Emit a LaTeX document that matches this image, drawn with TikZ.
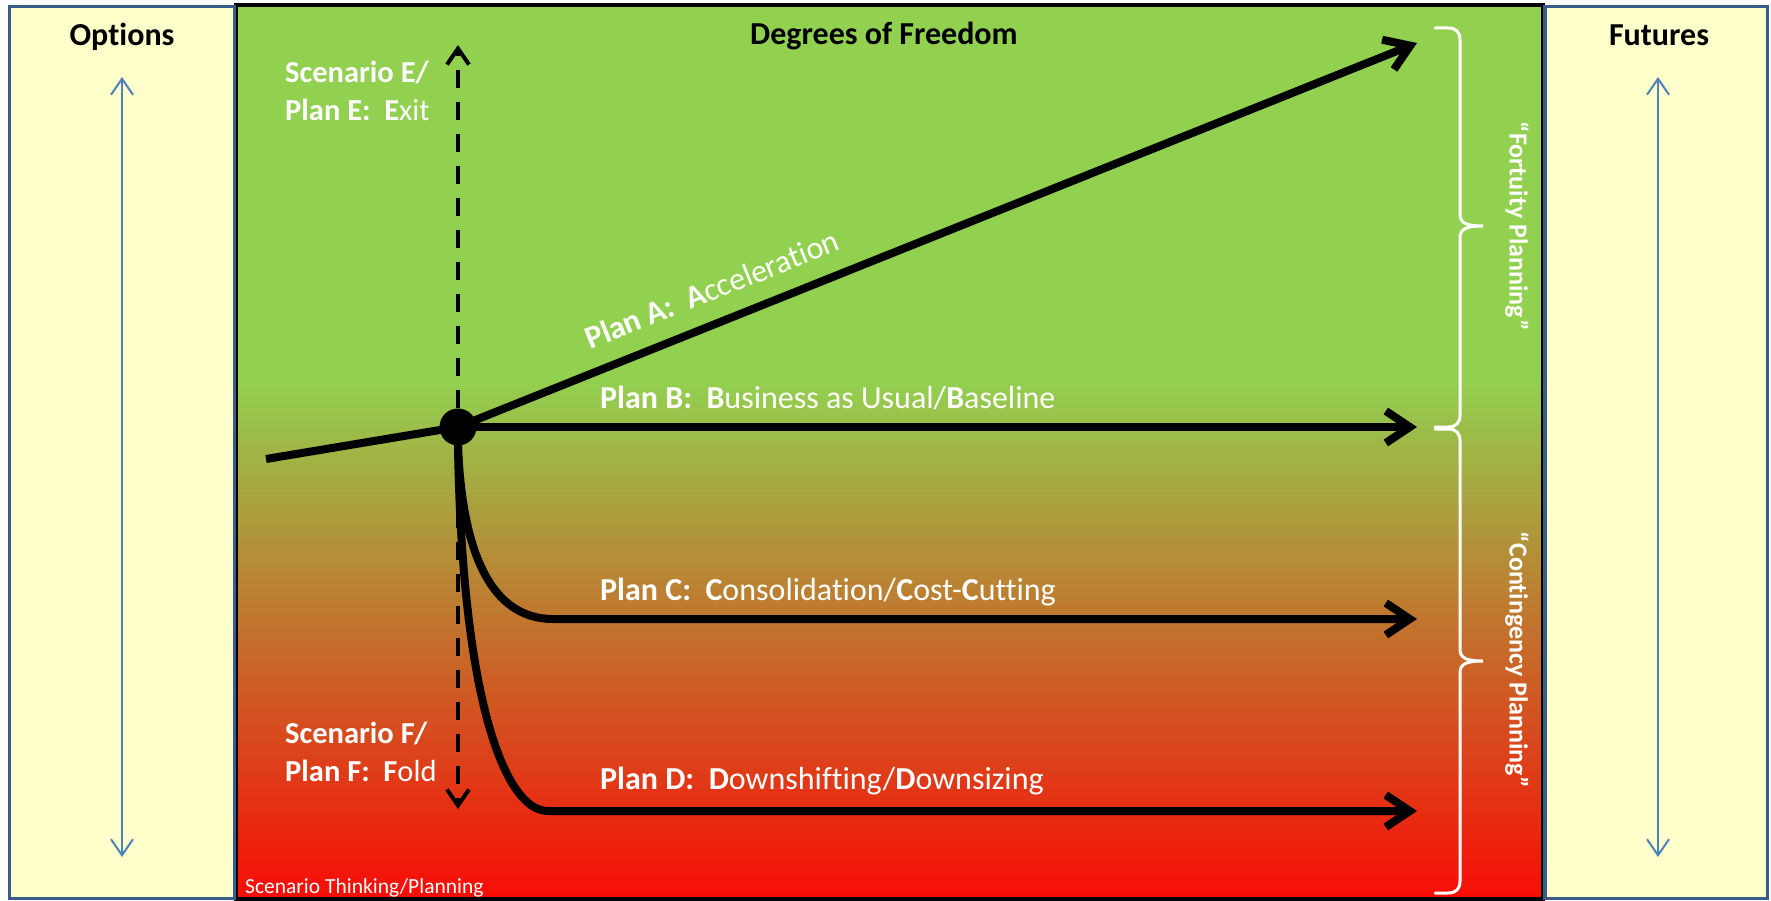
\documentclass[tikz,border=0pt]{standalone}
\usepackage{fontspec}
\setmainfont{Carlito}[Ligatures=NoCommon]
\usetikzlibrary{arrows.meta}

\definecolor{ggreen}{RGB}{146,208,80}
\definecolor{gred}{RGB}{248,12,6}
\definecolor{paneyellow}{RGB}{255,255,204}
\definecolor{paneborder}{RGB}{56,93,138}
\definecolor{paneblue}{RGB}{79,129,189}

% green on top, running into red at the bottom (box is mapped to 25bp..75bp)
\pgfdeclareverticalshading{freedom}{100bp}{color(0bp)=(gred); color(25bp)=(gred); color(54bp)=(ggreen); color(100bp)=(ggreen)}

\begin{document}
\begin{tikzpicture}[x=1pt, y=-1pt,
    every node/.style={inner sep=0pt},
    plan/.style={line width=8pt, line cap=round, line join=round, -{Straight Barb[length=24pt, width=32pt]}},
    dashline/.style={line width=4pt, dash pattern=on 18pt off 14pt, -{Straight Barb[length=16pt, width=22pt]}},
    spanarrow/.style={paneblue, line width=2pt, {Straight Barb[length=16pt, width=22pt]}-{Straight Barb[length=16pt, width=22pt]}},
    pane/.style={draw=paneborder, line width=3.5pt, fill=paneyellow},
    paneheading/.style={font=\fontsize{32}{38}\selectfont\bfseries, anchor=base},
    lbl/.style={text=white, font=\fontsize{32}{38}\selectfont},
    scen/.style={text=white, font=\fontsize{30.5}{36}\selectfont, anchor=base west},
    bracket/.style={white, line width=3pt, line cap=round},
    bracetext/.style={text=white, font=\fontsize{26}{30}\selectfont\bfseries, rotate=-90}
]
\useasboundingbox (0,0) rectangle (1771,901);
\fill[white] (0,0) rectangle (1771,901);

% field in the middle
\shadedraw[shading=freedom, draw=black, line width=4pt] (236,5) rectangle (1543,899);

% side panes
\draw[pane] (9.5,6.5) rectangle (234.5,898.5);
\draw[pane] (1545,6.5) rectangle (1767.5,898.5);
\node[paneheading] (options) at (122,46) {Options};
\node[paneheading] (futures) at (1659,46) {Futures};
\node[paneheading] (freedom) at (884,45) {Degrees of Freedom};

\coordinate (optTop) at (122,77);
\coordinate (optBot) at (122,857);
\coordinate (futTop) at (1658,77);
\coordinate (futBot) at (1658,857);
\draw[spanarrow] (optTop) -- (optBot);
\draw[spanarrow] (futTop) -- (futBot);

% the branching point and where each plan ends up
\node[circle, fill=black, minimum size=37pt] (hub) at (458,427) {};
\coordinate (origin) at (266,459);
\coordinate (exitTop) at (458,45);
\coordinate (foldBot) at (458,809);
\coordinate (endA) at (1417,43);
\coordinate (endB) at (1417,427);
\coordinate (kneeC) at (553,619);
\coordinate (endC) at (1417,619);
\coordinate (kneeD) at (548,811);
\coordinate (endD) at (1417,811);

\draw[dashline] (hub) -- (exitTop);
\draw[dashline] (hub) -- (foldBot);
\draw[line width=8pt] (origin) -- (hub.center);
\draw[plan] (hub) -- (endA);
\draw[plan] (hub) -- (endB);
\draw[plan] (hub.south) .. controls (462,550) and (490,619) .. (kneeC) -- (endC);
\draw[plan] (hub.south) .. controls (462,700) and (505,811) .. (kneeD) -- (endD);

% labels
\node[lbl, anchor=base west, rotate=21.8] (planA) at (590,350) {\textbf{Plan A:}\ \ \textbf{A}cceleration};
\node[lbl, anchor=base west] (planB) at (600,408) {\textbf{Plan B:}\ \ \textbf{B}usiness as Usual/\textbf{B}aseline};
\node[lbl, anchor=base west] (planC) at (600,600) {\textbf{Plan C:}\ \ \textbf{C}onsolidation/\textbf{C}ost-\textbf{C}utting};
\node[lbl, anchor=base west] (planD) at (600,789) {\textbf{Plan D:}\ \ \textbf{D}ownshifting/\textbf{D}ownsizing};
\node[scen] (scenE) at (285,83) {\textbf{Scenario E/}};
\node[scen] (planE) at (285,121) {\textbf{Plan E:}\ \ \textbf{E}xit};
\node[scen] (scenF) at (285,743) {\textbf{Scenario F/}};
\node[scen] (planF) at (285,781) {\textbf{Plan F:}\ \ \textbf{F}old};
\node[text=white, font=\fontsize{21.5}{24}\selectfont, anchor=base west] (caption) at (245,893) {Scenario Thinking/Planning};

% right-hand braces: top / tip / bottom
\foreach \t/\m/\b in {28/226/427, 429/661/893}{
  \draw[bracket] (1435,\t) -- (1448,\t) .. controls (1456,\t) and (1460,\t+4) .. (1460,\t+12)
    -- (1460,\m-12) .. controls (1460,\m-3) and (1466,\m) .. (1483,\m)
    .. controls (1466,\m) and (1460,\m+3) .. (1460,\m+12)
    -- (1460,\b-12) .. controls (1460,\b-4) and (1456,\b) .. (1448,\b) -- (1435,\b);
}
\node[bracetext] (fortuity) at (1517,226) {“Fortuity Planning”};
\node[bracetext] (contingency) at (1517,660) {“Contingency Planning”};
\end{tikzpicture}
\end{document}
